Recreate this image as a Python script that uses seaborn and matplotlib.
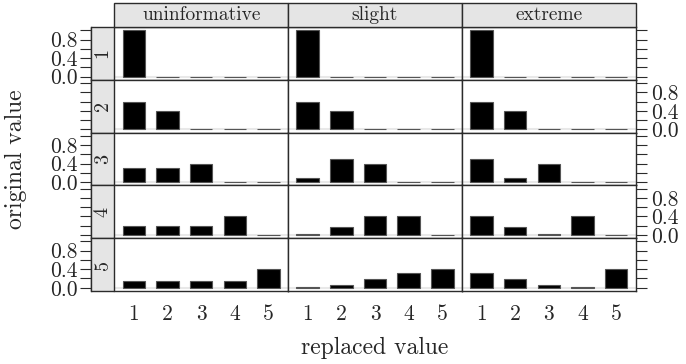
import numpy as np
import pandas as pd
import matplotlib
matplotlib.use("Agg")
import matplotlib.pyplot as plt
from matplotlib.patches import Rectangle
import seaborn as sns

# panel columns (prior strength) and rows (original value)
priors = ["uninformative", "slight", "extreme"]
original = [1, 2, 3, 4, 5]
replaced = [1, 2, 3, 4, 5]

# probability of each replaced value, one list per original value
uninformative = [
    [1.00, 0.00, 0.00, 0.00, 0.00],
    [0.60, 0.40, 0.00, 0.00, 0.00],
    [0.30, 0.30, 0.40, 0.00, 0.00],
    [0.20, 0.20, 0.20, 0.40, 0.00],
    [0.15, 0.15, 0.15, 0.15, 0.40],
]
slight = [
    [1.00, 0.00, 0.00, 0.00, 0.00],
    [0.60, 0.40, 0.00, 0.00, 0.00],
    [0.10, 0.50, 0.40, 0.00, 0.00],
    [0.03, 0.17, 0.40, 0.40, 0.00],
    [0.02, 0.07, 0.19, 0.32, 0.40],
]
extreme = [
    [1.00, 0.00, 0.00, 0.00, 0.00],
    [0.60, 0.40, 0.00, 0.00, 0.00],
    [0.50, 0.10, 0.40, 0.00, 0.00],
    [0.40, 0.17, 0.03, 0.40, 0.00],
    [0.32, 0.19, 0.07, 0.02, 0.40],
]

y_ticks = [0.0, 0.2, 0.4, 0.6, 0.8, 1.0]
y_labels = ["0.0", "", "0.4", "", "0.8", ""]

sns.set_style("white")
plt.rcParams["font.family"] = ["cmr10", "DejaVu Serif"]
plt.rcParams["axes.unicode_minus"] = False

rows = []
for prior, table in zip(priors, [uninformative, slight, extreme]):
    for o, vals in zip(original, table):
        for r, v in zip(replaced, vals):
            rows.append({"prior": prior, "original": o, "replaced": r, "prob": v})
df = pd.DataFrame(rows)

W, H = 686, 364
ax_w = (635.7 - 114.3) / 3
ax_h = 264 / 5

g = sns.FacetGrid(df, row="original", col="prior", row_order=original,
                  col_order=priors, sharex=False, sharey=False, despine=False,
                  height=ax_h / 100, aspect=ax_w / ax_h)
g.map_dataframe(sns.barplot, x="replaced", y="prob", order=replaced,
                color="black", saturation=1, width=0.667,
                edgecolor="#555555", linewidth=0.8, errorbar=None)
g.set_titles("")
g.set_axis_labels("", "")

fig = g.figure
fig.set_size_inches(W / 100, H / 100)
fig.subplots_adjust(left=114.3 / W, right=635.7 / W, top=1 - 27 / H,
                    bottom=1 - 291 / H, wspace=0, hspace=0)

line_c = "#2b2b2b"
strip_c = "#e5e5e5"
strip_w = 23 / ax_w
strip_h = 24 / ax_h
tick_fs = 15.5

for i in range(5):
    for j in range(3):
        ax = g.axes[i, j]
        ax.set_xlim(-0.58, 4.58)
        ax.set_ylim(-0.07, 1.07)
        ax.set_xlabel("")
        ax.set_ylabel("")
        ax.axhline(0, color="#e8e8e8", lw=1.5, zorder=0)
        for s in ax.spines.values():
            s.set_color(line_c)
            s.set_linewidth(1)
        ax.tick_params(axis="x", length=0, labelsize=tick_fs, pad=9.5,
                       labelbottom=(i == 4))
        if j == 0:
            ax.spines["left"].set_position(("outward", 23 * 0.72))
            lab = y_labels if i % 2 == 0 else [""] * len(y_ticks)
            ax.set_yticks(y_ticks, lab)
            ax.tick_params(axis="y", left=True, right=False, labelleft=True,
                           length=8, width=0.8, color=line_c, pad=2,
                           labelsize=tick_fs, direction="out")
            ax.add_patch(Rectangle((-strip_w, 0), strip_w, 1,
                                   transform=ax.transAxes, clip_on=False,
                                   facecolor=strip_c, edgecolor=line_c,
                                   lw=1, zorder=3))
            ax.text(-strip_w / 2, 0.5, str(original[i]), rotation=90,
                    transform=ax.transAxes, ha="center", va="center",
                    fontsize=14.5, zorder=4)
        elif j == 2:
            ax.yaxis.tick_right()
            lab = y_labels if i % 2 == 1 else [""] * len(y_ticks)
            ax.set_yticks(y_ticks, lab)
            ax.tick_params(axis="y", left=False, right=True, labelright=True,
                           labelleft=False, length=8, width=0.8,
                           color=line_c, pad=3, labelsize=tick_fs,
                           direction="out")
        else:
            ax.set_yticks([])
        if i == 0:
            ax.add_patch(Rectangle((0, 1), 1, strip_h, transform=ax.transAxes,
                                   clip_on=False, facecolor=strip_c,
                                   edgecolor=line_c, lw=1, zorder=3))
            ax.text(0.5, 1 + strip_h / 2, priors[j], transform=ax.transAxes,
                    ha="center", va="center", fontsize=14, zorder=4)

fig.text((114.3 + 635.7) / 2 / W, 1 - 348 / H, "replaced value",
         ha="center", va="center", fontsize=17)
fig.text(16 / W, 1 - 159 / H, "original value", rotation=90,
         ha="center", va="center", fontsize=17)

fig.savefig("out.png", dpi=100)
